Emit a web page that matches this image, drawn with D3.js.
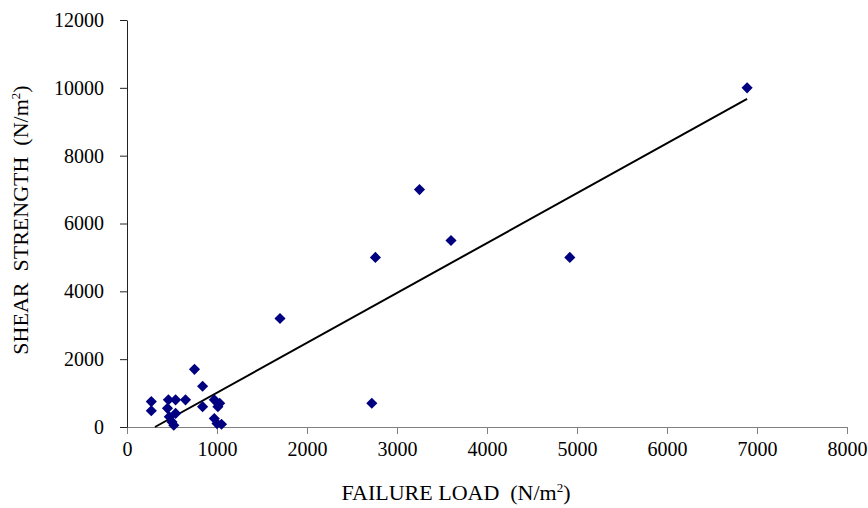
<!DOCTYPE html>
<html>
<head>
<meta charset="utf-8">
<script src="https://cdn.jsdelivr.net/npm/d3@7"></script>
<style>
  body { margin: 0; background: #fff; }
  text { font-family: "Liberation Serif", "Times New Roman", serif; fill: #000; }
</style>
</head>
<body>
<div id="container"></div>
<script>
/* DATA */
const failureLoad = [270, 270, 460, 540, 650, 450, 470, 500, 520, 540,
                     750, 840, 840, 970, 1010, 1030, 970, 1000, 1050,
                     1700, 2720, 2760, 3250, 3600, 4920, 6890];
const shearStrength = [750, 480, 800, 800, 800, 550, 300, 150, 50, 400,
                       1700, 1200, 600, 800, 600, 700, 250, 100, 80,
                       3200, 700, 5000, 7000, 5500, 5000, 10000];
const xTicks = [0, 1000, 2000, 3000, 4000, 5000, 6000, 7000, 8000];
const yTicks = [0, 2000, 4000, 6000, 8000, 10000, 12000];
// linear trendline: y = slope * x + intercept
const trendSlope = 1.47, trendIntercept = -457;

/* CONSTANTS */
const width = 868, height = 508,
      margin = {top: 20, left: 127, right: 21, bottom: 81},
      innerWidth = width - margin.left - margin.right,
      innerHeight = height - margin.top - margin.bottom;

const data = failureLoad.map((x, i) => ({x: x, y: shearStrength[i]}));

/* SCALES */
const xScale = d3.scaleLinear().domain([0, 8000]).range([0, innerWidth]);
const yScale = d3.scaleLinear().domain([0, 12000]).range([innerHeight, 0]);

const svg = d3.select("#container")
  .append("svg")
    .attr("width", width)
    .attr("height", height);

const g = svg.append("g")
  .attr("transform", `translate(${margin.left},${margin.top})`);

/* AXES */
const xAxis = g.append("g")
  .attr("transform", `translate(0,${innerHeight})`)
  .call(d3.axisBottom(xScale).tickValues(xTicks).tickFormat(d3.format("d"))
        .tickSize(7).tickSizeOuter(0).tickPadding(8));
xAxis.attr("font-family", null);
xAxis.selectAll("path, line").attr("stroke", "#808080");
xAxis.selectAll("text").attr("font-size", "20px");

const yAxis = g.append("g")
  .call(d3.axisLeft(yScale).tickValues(yTicks).tickFormat(d3.format("d"))
        .tickSize(7).tickSizeOuter(0).tickPadding(16));
yAxis.attr("font-family", null);
yAxis.selectAll("path, line").attr("stroke", "#222");
yAxis.selectAll("text").attr("font-size", "20px");

/* TRENDLINE (clipped to y >= 0) */
const xStart = Math.max(d3.min(failureLoad), -trendIntercept / trendSlope),
      xEnd = d3.max(failureLoad);

g.append("line")
  .attr("x1", xScale(xStart))
  .attr("y1", yScale(trendIntercept + trendSlope * xStart))
  .attr("x2", xScale(xEnd))
  .attr("y2", yScale(trendIntercept + trendSlope * xEnd))
  .attr("stroke", "#000")
  .attr("stroke-width", 2);

/* POINTS */
const diamond = d3.symbol().type(d3.symbolSquare).size(62);
g.selectAll("path.pt")
  .data(data)
  .join("path")
    .attr("class", "pt")
    .attr("d", diamond)
    .attr("transform", d => `translate(${xScale(d.x)},${yScale(d.y)}) rotate(45)`)
    .attr("fill", "#000080");

/* LABELS */
const xLabel = svg.append("text")
  .attr("x", 456)
  .attr("y", 500)
  .attr("text-anchor", "middle")
  .attr("font-size", "22px")
  .attr("xml:space", "preserve");
xLabel.append("tspan").text("FAILURE LOAD  (N/m");
xLabel.append("tspan").attr("font-size", "13px").attr("dy", "-8").text("2");
xLabel.append("tspan").attr("dy", "8").text(")");

const yLabel = svg.append("text")
  .attr("transform", "translate(28,220) rotate(-90)")
  .attr("text-anchor", "middle")
  .attr("font-size", "22px")
  .attr("xml:space", "preserve");
yLabel.append("tspan").text("SHEAR  STRENGTH  (N/m");
yLabel.append("tspan").attr("font-size", "13px").attr("dy", "-8").text("2");
yLabel.append("tspan").attr("dy", "8").text(")");
</script>
</body>
</html>
